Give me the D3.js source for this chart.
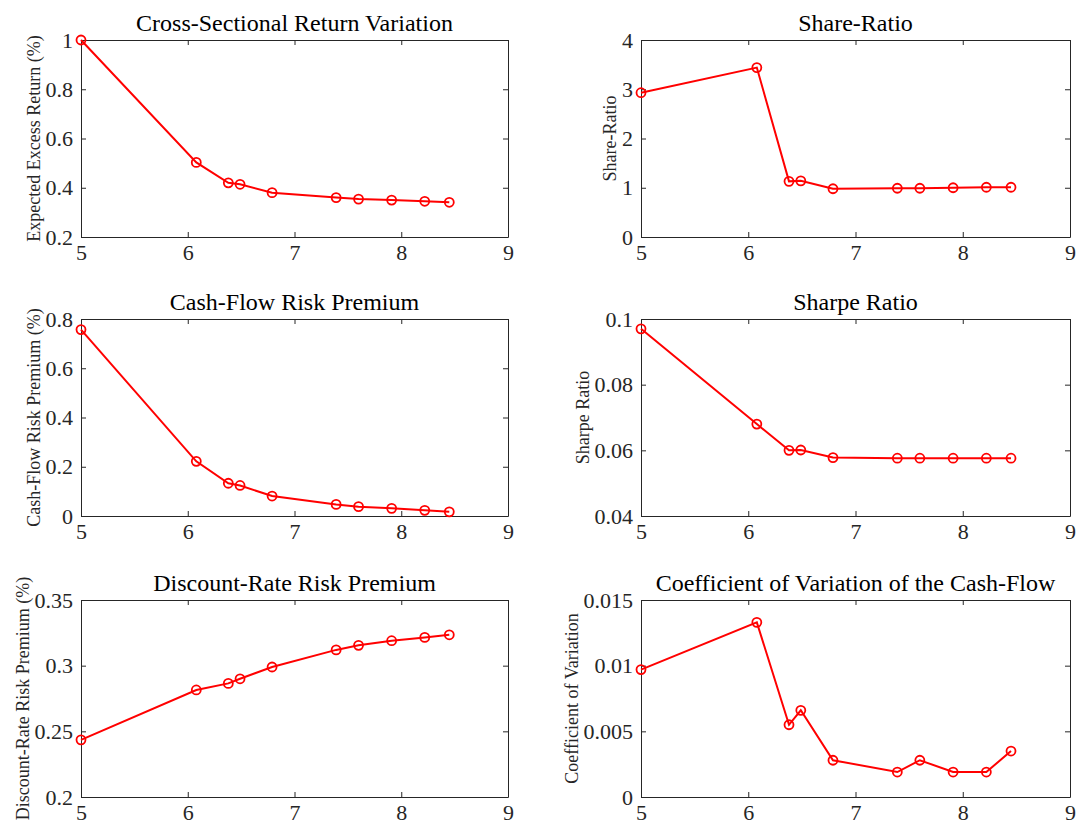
<!DOCTYPE html>
<html>
<head>
<meta charset="utf-8">
<script src="https://cdn.jsdelivr.net/npm/d3@7"></script>
<style>
  body { margin: 0; background: #fff; }
  svg text { font-family: "Liberation Serif", "Times New Roman", serif; fill: #262626; }
</style>
</head>
<body>
<div id="chart"></div>
<script>
// x values shared by every panel
var xVals = [5, 6.08, 6.38, 6.49, 6.79, 7.39, 7.60, 7.91, 8.22, 8.45];
var xTicks = [5, 6, 7, 8, 9];

var titles = [
  "Cross-Sectional Return Variation", "Share-Ratio",
  "Cash-Flow Risk Premium", "Sharpe Ratio",
  "Discount-Rate Risk Premium", "Coefficient of Variation of the Cash-Flow"
];
var yLabels = [
  "Expected Excess Return (%)", "Share-Ratio",
  "Cash-Flow Risk Premium (%)", "Sharpe Ratio",
  "Discount-Rate Risk Premium (%)", "Coefficient of Variation"
];

var crossReturn = [1.0, 0.503, 0.420, 0.414, 0.380, 0.360, 0.354, 0.350, 0.345, 0.341];
var shareRatio = [2.93, 3.44, 1.13, 1.14, 0.98, 0.99, 0.99, 1.00, 1.01, 1.01];
var cashFlowPrem = [0.757, 0.222, 0.133, 0.124, 0.081, 0.047, 0.038, 0.031, 0.023, 0.017];
var sharpe = [0.0970, 0.0680, 0.0600, 0.0601, 0.0578, 0.0576, 0.0576, 0.0576, 0.0576, 0.0576];
var discountPrem = [0.2435, 0.2815, 0.2865, 0.2900, 0.2990, 0.3120, 0.3155, 0.3190, 0.3215, 0.3235];
var cfVariation = [0.0097, 0.0133, 0.0055, 0.0066, 0.0028, 0.0019, 0.0028, 0.0019, 0.0019, 0.0035];

var yDomains = [[0.2, 1], [0, 4], [0, 0.8], [0.04, 0.1], [0.2, 0.35], [0, 0.015]];
var yTicks = [
  [0.2, 0.4, 0.6, 0.8, 1],
  [0, 1, 2, 3, 4],
  [0, 0.2, 0.4, 0.6, 0.8],
  [0.04, 0.06, 0.08, 0.1],
  [0.2, 0.25, 0.3, 0.35],
  [0, 0.005, 0.01, 0.015]
];
var series = [crossReturn, shareRatio, cashFlowPrem, sharpe, discountPrem, cfVariation];

var width = 1077, height = 825;
var colX = [[81, 508], [641, 1070]];
var rowY = [40, 319, 600];
var plotH = 197;

var svg = d3.select("#chart").append("svg")
  .attr("width", width)
  .attr("height", height);

var fmt = function(v) { return String(+v.toFixed(4)); };

series.forEach(function(vals, i) {
  var col = i % 2, row = Math.floor(i / 2);
  var x0 = colX[col][0], x1 = colX[col][1];
  var y0 = rowY[row], y1 = rowY[row] + plotH;

  var x = d3.scaleLinear().domain([5, 9]).range([x0, x1]);
  var y = d3.scaleLinear().domain(yDomains[i]).range([y1, y0]);

  var g = svg.append("g");

  // ticks on all four sides, pointing inward
  var bottom = g.append("g").attr("transform", "translate(0," + y1 + ")")
    .call(d3.axisBottom(x).tickValues(xTicks).tickFormat(fmt).tickSizeInner(-5).tickSizeOuter(0).tickPadding(6));
  var top = g.append("g").attr("transform", "translate(0," + y0 + ")")
    .call(d3.axisTop(x).tickValues(xTicks).tickFormat("").tickSizeInner(-5).tickSizeOuter(0));
  var left = g.append("g").attr("transform", "translate(" + x0 + ",0)")
    .call(d3.axisLeft(y).tickValues(yTicks[i]).tickFormat(fmt).tickSizeInner(-5).tickSizeOuter(0).tickPadding(8));
  var right = g.append("g").attr("transform", "translate(" + x1 + ",0)")
    .call(d3.axisRight(y).tickValues(yTicks[i]).tickFormat("").tickSizeInner(-5).tickSizeOuter(0));

  [bottom, top, left, right].forEach(function(a) {
    a.select(".domain").attr("stroke", "#262626").attr("stroke-width", 1);
    a.selectAll(".tick line").attr("stroke", "#262626");
    a.selectAll("text").attr("font-family", "Liberation Serif, serif")
      .attr("font-size", 22).attr("fill", "#262626");
  });
  bottom.selectAll("text").attr("dy", "0.75em");

  g.append("text")
    .attr("x", (x0 + x1) / 2)
    .attr("y", y0 - 9)
    .attr("text-anchor", "middle")
    .attr("font-size", 24)
    .style("fill", "#000")
    .text(titles[i]);

  // y label sits just left of the widest tick label, as MATLAB does
  var minX = x0;
  left.selectAll("text").each(function() {
    var b = this.getBBox();
    minX = Math.min(minX, x0 + b.x);
  });

  g.append("text")
    .attr("transform", "translate(" + (minX - 6) + "," + (y0 + plotH / 2) + ")rotate(-90)")
    .attr("text-anchor", "middle")
    .attr("font-size", 18)
    .text(yLabels[i]);

  var pts = xVals.map(function(d, k) { return [d, vals[k]]; });
  var line = d3.line().x(function(d) { return x(d[0]); }).y(function(d) { return y(d[1]); });

  g.append("path")
    .datum(pts)
    .attr("d", line)
    .attr("fill", "none")
    .attr("stroke", "#ff0000")
    .attr("stroke-width", 2);

  g.selectAll("circle.m")
    .data(pts)
    .enter()
    .append("circle")
    .attr("class", "m")
    .attr("cx", function(d) { return x(d[0]); })
    .attr("cy", function(d) { return y(d[1]); })
    .attr("r", 4.5)
    .attr("fill", "none")
    .attr("stroke", "#ff0000")
    .attr("stroke-width", 1.8);
});
</script>
</body>
</html>
